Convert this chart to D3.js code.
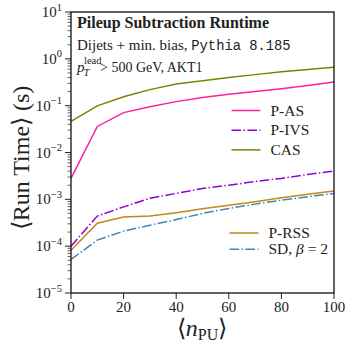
<!DOCTYPE html>
<html><head><meta charset="utf-8">
<script src="https://cdn.jsdelivr.net/npm/d3@7"></script>
</head><body style="margin:0"><svg id="c" width="345" height="342"></svg>
<script>
const npu = [0,10,20,30,40,50,60,70,80,90,100];
const pAS  = [0.0028,0.036,0.071,0.095,0.122,0.150,0.175,0.200,0.230,0.270,0.320];
const pIVS = [0.0001,0.00044,0.00069,0.00105,0.00134,0.0017,0.0020,0.0024,0.0028,0.0034,0.0040];
const cas  = [0.046,0.099,0.155,0.22,0.29,0.34,0.40,0.46,0.53,0.59,0.66];
const pRSS = [0.000082,0.00031,0.00042,0.00044,0.00052,0.00063,0.00075,0.00089,0.00108,0.00128,0.0015];
const sd   = [0.000052,0.000135,0.00021,0.00028,0.00037,0.0005,0.00064,0.00079,0.00096,0.00114,0.00134];
const xTicks = [0,20,40,60,80,100];
const yExps = [-5,-4,-3,-2,-1,0,1];

const series = [
  {name:"P-AS", vals:pAS, color:"#ff1f9a", dash:null},
  {name:"P-IVS", vals:pIVS, color:"#9400d3", dash:"9.6,2.4,1.5,2.4"},
  {name:"CAS", vals:cas, color:"#808000", dash:null},
  {name:"P-RSS", vals:pRSS, color:"#c08a14", dash:null},
  {name:"SD", vals:sd, color:"#4682b4", dash:"9.6,2.4,1.5,2.4"}
];

const svg = d3.select("#c");
const L=71,R=334,T=12,B=293;
const x = d3.scaleLinear().domain([0,100]).range([L,R]);
const y = d3.scaleLog().domain([1e-5,10]).range([B,T]);
function txt(sel, size, extra){
  return sel.append("text").attr("font-family","Liberation Serif").attr("font-size",size).attr("fill","#222")
    .attr("style","font-family:'Liberation Serif';font-size:"+size+"px"+(extra?";"+extra:""));
}
function sp(t, size, extra){
  const s = t.append("tspan");
  if (size) s.attr("font-size",size);
  const st = (size?"font-size:"+size+"px":"")+(extra?(size?";":"")+extra:"");
  if (st) s.attr("style",st);
  return s;
}

const g = svg.append("g");
for (let e=-5;e<=1;e++){
  for (let m=1;m<=9;m++){
    const v = m*Math.pow(10,e);
    if (v>10*1.0001) continue;
    g.append("line").attr("x1",L).attr("x2",L-(m===1?6:3.5))
      .attr("y1",y(v)).attr("y2",y(v)).attr("stroke","#222").attr("stroke-width",m===1?1:0.7);
  }
}
yExps.forEach(e=>{
  const t = txt(g,15).attr("x",L-9).attr("y",y(Math.pow(10,e))+5)
    .attr("text-anchor","end");
  sp(t).text("10");
  sp(t,10.5).attr("dy",-6.5).text(e<0?"\u2212"+(-e):String(e));
});
xTicks.forEach(v=>{
  g.append("line").attr("x1",x(v)).attr("x2",x(v)).attr("y1",B).attr("y2",B+6)
    .attr("stroke","#222").attr("stroke-width",1);
  txt(g,15).attr("x",x(v)).attr("y",B+19).attr("text-anchor","middle").text(v);
});

const line = d3.line().x((d,i)=>x(npu[i])).y(d=>y(d));
series.forEach(s=>{
  svg.append("path").attr("d",line(s.vals)).attr("fill","none")
    .attr("stroke",s.color).attr("stroke-width",1.5)
    .attr("stroke-dasharray",s.dash);
});

svg.append("rect").attr("x",L).attr("y",T).attr("width",R-L).attr("height",B-T)
  .attr("fill","none").attr("stroke","#111").attr("stroke-width",1.3);

txt(svg,16,"font-weight:bold").attr("font-weight","bold").attr("x",77).attr("y",28).text("Pileup Subtraction Runtime");
const t2 = txt(svg,15).attr("x",77).attr("y",49.5);
sp(t2).text("Dijets + min. bias, ");
sp(t2,13.8,"font-family:'Liberation Mono'").attr("font-family","Liberation Mono").text("Pythia 8.185");
txt(svg,15,"font-style:italic").attr("font-style","italic").attr("x",77).attr("y",72).text("p");
txt(svg,10.5).attr("x",84).attr("y",64).text("lead");
txt(svg,10.5,"font-style:italic").attr("font-style","italic").attr("x",83.5).attr("y",76).text("T");
txt(svg,14).attr("x",100).attr("y",72).text("> 500 GeV, AKT1");

function legend(items, x0, y0, dy){
  items.forEach((s,i)=>{
    const yy = y0+i*dy;
    svg.append("line").attr("x1",x0).attr("x2",x0+29).attr("y1",yy).attr("y2",yy)
      .attr("stroke",s.color).attr("stroke-width",1.5).attr("stroke-dasharray",s.dash);
    const t = txt(svg,15.5).attr("x",x0+39).attr("y",yy+5);
    if (s.name==="SD"){
      sp(t).text("SD, ");
      sp(t,null,"font-style:italic").attr("font-style","italic").text("\u03B2");
      sp(t).text(" = 2");
    } else t.text(s.name);
  });
}
legend([series[0],series[1],series[2]],231.5,110.5,19.7);
legend([series[3],series[4]],229.5,233,16.3);

const xl = txt(svg,24).attr("x",202).attr("y",336).attr("text-anchor","middle");
sp(xl).text("\u27E8");
sp(xl,null,"font-style:italic").attr("font-style","italic").text("n");
sp(xl,16).attr("dy",4).text("PU");
sp(xl).attr("dy",-4).text("\u27E9");
txt(svg,24).attr("transform","translate(29,158) rotate(-90)").attr("text-anchor","middle")
  .text("\u27E8Run Time\u27E9 (s)");
</script></body></html>
